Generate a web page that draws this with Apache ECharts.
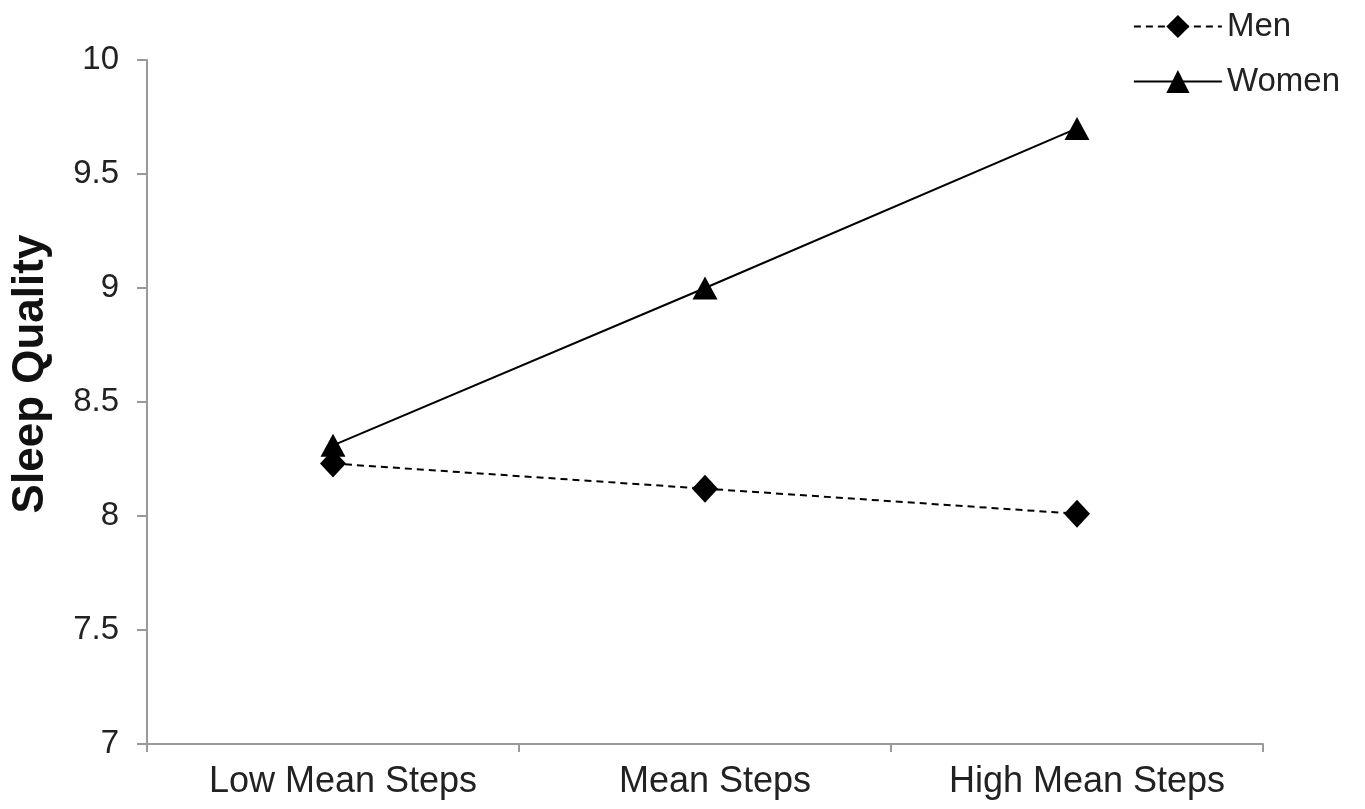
<!DOCTYPE html>
<html>
<head>
<meta charset="utf-8">
<script src="https://cdn.jsdelivr.net/npm/echarts@6/dist/echarts.min.js"></script>
<style>html,body{margin:0;padding:0;background:#fff;}#c{width:1365px;height:809px;}</style>
</head>
<body>
<div id="c"></div>
<script>
const categories = ['Low Mean Steps', 'Mean Steps', 'High Mean Steps'];
const menValues = [8.23, 8.12, 8.01];
const womenValues = [8.31, 9.00, 9.70];
const yTicks = [7, 7.5, 8, 8.5, 9, 9.5, 10];

const chart = echarts.init(document.getElementById('c'));
const font = 'Liberation Sans, Arial, sans-serif';
chart.setOption({
  backgroundColor: '#fff',
  animation: false,
  textStyle: { fontFamily: font },
  grid: { left: 147, right: 102, top: 60, bottom: 65 },
  legend: {
    orient: 'vertical',
    right: 20,
    top: 5,
    itemWidth: 88,
    itemHeight: 29,
    itemGap: 22,
    textStyle: { fontFamily: font, fontSize: 33, color: '#222' },
    data: ['Men', 'Women']
  },
  xAxis: {
    type: 'category',
    data: categories,
    boundaryGap: true,
    axisLine: { lineStyle: { color: '#999', width: 2 } },
    axisTick: { show: true, length: 8, lineStyle: { color: '#999', width: 2 } },
    axisLabel: { fontFamily: font, fontSize: 36, color: '#222', margin: 20, padding: [0, 0, 0, 20] }
  },
  yAxis: {
    type: 'value',
    min: 7, max: 10, interval: 0.5,
    name: 'Sleep Quality',
    nameLocation: 'middle',
    nameGap: 94,
    nameTextStyle: { fontFamily: font, fontSize: 44, fontWeight: 'bold', color: '#111', padding: [0, 0, 0, 56] },
    splitLine: { show: false },
    axisLine: { show: true, lineStyle: { color: '#999', width: 2 } },
    axisTick: { show: true, length: 10, lineStyle: { color: '#999', width: 2 } },
    axisLabel: {
      fontFamily: font, fontSize: 33, color: '#222', margin: 28,
      formatter: v => yTicks.includes(v) ? String(v) : ''
    }
  },
  series: [
    {
      name: 'Men', type: 'line', data: menValues,
      symbol: 'diamond', symbolSize: [26, 28],
      lineStyle: { color: '#000', width: 2, type: [7, 5] },
      itemStyle: { color: '#000' },
      z: 3
    },
    {
      name: 'Women', type: 'line', data: womenValues,
      symbol: 'triangle', symbolSize: [25, 23],
      lineStyle: { color: '#000', width: 2, type: 'solid' },
      itemStyle: { color: '#000' },
      z: 4
    }
  ]
});
</script>
</body>
</html>
